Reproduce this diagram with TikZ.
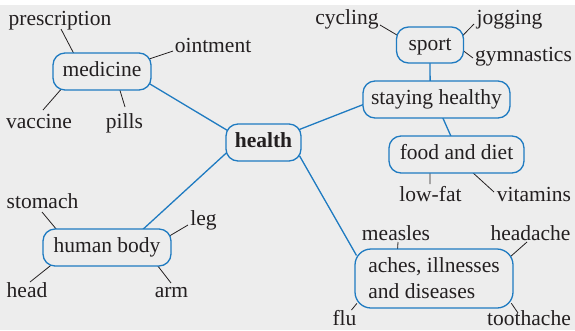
\documentclass[tikz,border=0pt]{standalone}
\usepackage{fontspec}
\setmainfont{Liberation Serif}
\usetikzlibrary{backgrounds}
\definecolor{bgc}{HTML}{EDEDED}
\definecolor{txt}{HTML}{231F20}
\definecolor{bl}{HTML}{1F7BC1}
\tikzset{
  box/.style={draw=bl, line width=1.3bp, rounded corners=12bp, fill=bgc, inner sep=0pt, outer sep=0pt, text=txt},
  sbox/.style={box, minimum height=37bp, text height=15bp, text depth=4.5bp},
  lbl/.style={text=txt, inner sep=0.5bp, anchor=base},
  leaf/.style={draw=txt, line width=0.8bp, shorten >=-3bp},
  trunk/.style={draw=bl, line width=1.3bp, shorten >=-3bp, shorten <=-3bp},
  mainfont/.style={font=\fontsize{21.5bp}{26bp}\selectfont}
}
\begin{document}
\begin{tikzpicture}[x=1bp, y=-1bp, mainfont]
\useasboundingbox (0,0) rectangle (575,330);
% boxes
\node[sbox, minimum width=98bp] (medicine) at (102,71.5) {medicine};
\node[sbox, minimum width=75bp, font=\fontsize{21.5bp}{26bp}\selectfont\bfseries] (health) at (263.5,142.5) {health};
\node[sbox, minimum width=67bp, minimum height=36bp] (sport) at (430,45) {sport};
\node[sbox, minimum width=147bp] (staying) at (436.5,99.5) {staying healthy};
\node[sbox, minimum width=135bp] (food) at (456.5,154.5) {food and diet};
\node[sbox, minimum width=128bp] (body) at (107,247.5) {human body};
\node[box, minimum width=158bp, minimum height=59bp, rounded corners=16bp, align=left] (aches) at (434,278.5) {aches, illnesses\\and diseases};
% labels
\node[lbl] (prescription) at (60,25) {prescription};
\node[lbl] (ointment) at (213,52) {ointment};
\node[lbl] (vaccine) at (39,128) {vaccine};
\node[lbl] (pills) at (124.5,128) {pills};
\node[lbl] (cycling) at (347,24) {cycling};
\node[lbl] (jogging) at (509.5,24) {jogging};
\node[lbl] (gymnastics) at (523.5,61) {gymnastics};
\node[lbl] (lowfat) at (430.5,201) {low-fat};
\node[lbl] (vitamins) at (534,201) {vitamins};
\node[lbl] (measles) at (396,240) {measles};
\node[lbl] (headache) at (530.5,240) {headache};
\node[lbl] (flu) at (344.5,325) {flu};
\node[lbl] (toothache) at (529,325) {toothache};
\node[lbl] (stomach) at (42.5,208.5) {stomach};
\node[lbl] (leg) at (203.5,225) {leg};
\node[lbl] (head) at (27,297) {head};
\node[lbl] (arm) at (171.5,297) {arm};
\begin{pgfonlayer}{background}
\fill[white] (0,0) rectangle (575,330);
\fill[bgc] (0,5) rectangle (575,330);
% trunk connectors
\draw[trunk] (medicine.-15) -- (health.161);
\draw[trunk] (health.-164) -- (body.27);
\draw[trunk] (health.20) -- (staying.-176);
\draw[trunk] (health.-23) -- (aches.162);
\draw[trunk] (sport.south) -- (staying.109);
\draw[trunk] (staying.-71) -- (food.107);
% leaf connectors
\draw[leaf] ([shift={(1,4)}]prescription.base) -- (medicine.147);
\draw[leaf] ([shift={(-40,-1)}]ointment.base) -- (medicine.15);
\draw[leaf] ([shift={(4,-18)}]vaccine.base) -- (medicine.-156);
\draw[leaf] ([shift={(0.5,-21)}]pills.base) -- (medicine.-46);
\draw[leaf] ([shift={(33,1)}]cycling.base) -- (sport.163);
\draw[leaf] ([shift={(-35.5,0)}]jogging.base) -- (sport.17);
\draw[leaf] ([shift={(-50.5,-3)}]gymnastics.base) -- (sport.-10);
\draw[leaf] ([shift={(-0.5,-17)}]lowfat.base) -- (food.-145);
\draw[leaf] ([shift={(-40,-9)}]vitamins.base) -- (food.-48);
\draw[leaf] ([shift={(2,2)}]measles.base) -- (aches.141);
\draw[leaf] ([shift={(-3.5,2)}]headache.base) -- (aches.17);
\draw[leaf] ([shift={(7,-15)}]flu.base) -- (aches.-161);
\draw[leaf] ([shift={(-11,-12)}]toothache.base) -- (aches.-19);
\draw[leaf] ([shift={(-0.5,3.5)}]stomach.base) -- (body.160);
\draw[leaf] ([shift={(-15.5,0)}]leg.base) -- (body.11);
\draw[leaf] ([shift={(3,-15)}]head.base) -- (body.-162);
\draw[leaf] ([shift={(-0.5,-14)}]arm.base) -- (body.-20);
\end{pgfonlayer}
\end{tikzpicture}
\end{document}
